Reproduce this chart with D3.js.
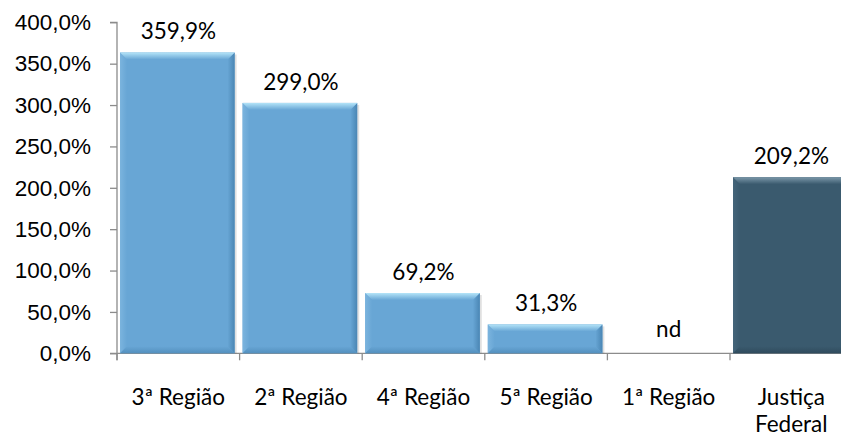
<!DOCTYPE html>
<html>
<head>
<meta charset="utf-8">
<script src="https://cdn.jsdelivr.net/npm/d3@7"></script>
<style>
  html, body { margin: 0; padding: 0; background: #fff; }
  svg { display: block; font-family: Lato, "Open Sans", sans-serif; }
</style>
</head>
<body>
<svg id="chart" width="841" height="438"></svg>
<script>
// data
const categories = ['3ª Região', '2ª Região', '4ª Região', '5ª Região', '1ª Região', 'Justiça Federal'];
const values = [359.9, 299.0, 69.2, 31.3, null, 209.2];
const highlight = ['Justiça Federal'];
const yTicks = [0, 50, 100, 150, 200, 250, 300, 350, 400];

const ptBR = d3.formatLocale({decimal: ',', thousands: '.', grouping: [3], currency: ['R$', '']});
const fmt = ptBR.format('.1f');

const svg = d3.select('#chart');
const plotLeft = 117, plotTop = 22.3, plotBottom = 353.3, step = 122.6;
const fontSize = 22.5;

const y = d3.scaleLinear().domain([0, 400]).range([plotBottom, plotTop]);
const x = d3.scaleBand().domain(categories).range([plotLeft, plotLeft + step * categories.length]);

/**
 * gradients for the bevelled bars
 */
const defs = svg.append('defs');
function grad(id, stops, vertical) {
    const g = defs.append('linearGradient').attr('id', id)
        .attr('x1', 0).attr('y1', 0)
        .attr('x2', vertical ? 0 : 1).attr('y2', vertical ? 1 : 0);
    stops.forEach(s => g.append('stop').attr('offset', s[0]).attr('stop-color', s[1]));
}
const palette = {
    light: {main: '#68a6d5', top: '#b4e4f8', edge: '#4a86b4', side: '#7bb4de'},
    dark:  {main: '#3a5a6e', top: '#7c98aa', edge: '#2a4455', side: '#44657a'}
};
Object.entries(palette).forEach(([k, p]) => {
    grad('top-' + k, [[0, p.top], [1, p.main]], true);
    grad('right-' + k, [[0, p.main], [1, p.edge]], false);
    grad('bottom-' + k, [[0, p.main], [1, p.edge]], true);
    grad('left-' + k, [[0, p.side], [1, p.main]], false);
});

// axes
const yAxis = svg.append('g')
    .attr('transform', `translate(${plotLeft},0)`)
    .call(d3.axisLeft(y).tickValues(yTicks).tickSize(7).tickPadding(19)
        .tickFormat(d => fmt(d) + '%'));
yAxis.select('.domain').attr('stroke', '#8c8c8c').attr('stroke-width', 1.3)
    .attr('d', `M-7,${plotTop}H0V${plotBottom + 7}`);
yAxis.selectAll('.tick line').attr('stroke', '#8c8c8c').attr('stroke-width', 1.3);
yAxis.selectAll('.tick text').attr('font-size', fontSize).attr('fill', '#000');

// x axis line and boundary ticks
const xg = svg.append('g');
xg.append('line')
    .attr('x1', plotLeft - 7).attr('x2', 841).attr('y1', plotBottom).attr('y2', plotBottom)
    .attr('stroke', '#8c8c8c').attr('stroke-width', 1.3);
xg.selectAll('line.b').data(categories).join('line')
    .attr('class', 'b')
    .attr('x1', d => x(d)).attr('x2', d => x(d))
    .attr('y1', plotBottom).attr('y2', plotBottom + 7)
    .attr('stroke', '#8c8c8c').attr('stroke-width', 1.3);

// category labels (wrap when too wide for the slot)
const labels = xg.selectAll('text.cat').data(categories).join('text')
    .attr('class', 'cat')
    .attr('x', d => x(d) + x.bandwidth() / 2)
    .attr('y', 405)
    .attr('text-anchor', 'middle')
    .attr('font-size', fontSize)
    .attr('fill', '#000')
    .text(d => d);
labels.each(function(d) {
    const t = d3.select(this);
    if (this.getComputedTextLength() > x.bandwidth() - 4) {
        const words = d.split(' ');
        t.text(null);
        words.forEach((w, i) => t.append('tspan')
            .attr('x', x(d) + x.bandwidth() / 2)
            .attr('dy', i === 0 ? 0 : 27)
            .text(w));
    }
});

// bars
const inset = 3, bw = x.bandwidth() - 8, bev = 7;
const data = categories.map((c, i) => ({cat: c, value: values[i]}));
const bars = svg.selectAll('g.bar').data(data.filter(d => d.value != null)).join('g')
    .attr('class', 'bar')
    .attr('transform', d => `translate(${x(d.cat) + inset},${y(d.value) - 3})`);

bars.each(function(d) {
    const g = d3.select(this);
    const k = highlight.includes(d.cat) ? 'dark' : 'light';
    const h = plotBottom - y(d.value) + 3;
    const b = Math.min(bev, h / 2);
    // soft shadow
    g.append('rect').attr('x', 2).attr('y', 2).attr('width', bw).attr('height', h - 2)
        .attr('fill', '#000').attr('opacity', 0.12);
    g.append('rect').attr('width', bw).attr('height', h).attr('fill', palette[k].main);
    g.append('path').attr('fill', `url(#left-${k})`)
        .attr('d', `M0,0L${b},${b}L${b},${h - b}L0,${h}Z`);
    g.append('path').attr('fill', `url(#right-${k})`)
        .attr('d', `M${bw},0L${bw - b},${b}L${bw - b},${h - b}L${bw},${h}Z`);
    g.append('path').attr('fill', `url(#bottom-${k})`).attr('opacity', 0.7)
        .attr('d', `M0,${h}L${b},${h - b}L${bw - b},${h - b}L${bw},${h}Z`);
    g.append('path').attr('fill', `url(#top-${k})`)
        .attr('d', `M0,0L${bw},0L${bw - b},${b}L${b},${b}Z`);
});

// value labels
svg.selectAll('text.val').data(data).join('text')
    .attr('class', 'val')
    .attr('x', d => x(d.cat) + x.bandwidth() / 2)
    .attr('y', d => y(d.value == null ? 0 : d.value) - 16)
    .attr('text-anchor', 'middle')
    .attr('font-size', fontSize)
    .attr('fill', '#000')
    .text(d => d.value == null ? 'nd' : fmt(d.value) + '%');
</script>
</body>
</html>
